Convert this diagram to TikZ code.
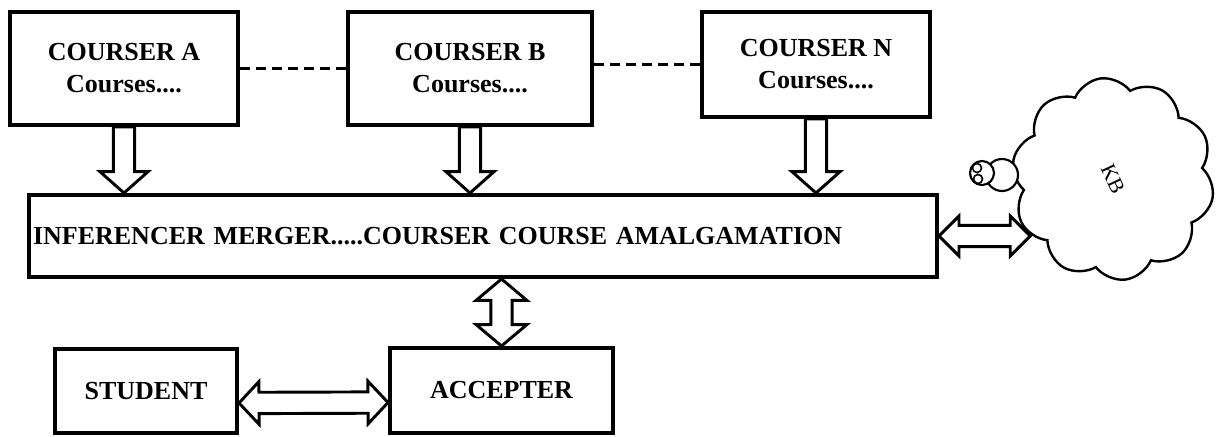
\documentclass[tikz,border=0pt]{standalone}
\usepackage{fontspec}
\setmainfont{Liberation Serif}
\usetikzlibrary{calc,shapes.symbols}

\tikzset{
  arrw/.store in=\arrw, arrh/.store in=\arrh, arrl/.store in=\arrl,
  arrw=8pt, arrh=18pt, arrl=16pt,
  box/.style={draw,line width=3pt,fill=white,align=center,inner sep=3pt,
    font=\fontsize{19.5}{24}\selectfont\bfseries},
  dashline/.style={line width=2pt,dash pattern=on 7.5pt off 4.5pt},
  fat/.style={draw,fill=white,line width=2.2pt,line join=miter,
    to path={-- ($(\tikztostart)!\arrw!90:(\tikztotarget)$)
      -- ($(\tikztotarget)!\arrl!(\tikztostart)!\arrw!90:(\tikztotarget)$)
      -- ($(\tikztotarget)!\arrl!(\tikztostart)!\arrh!90:(\tikztotarget)$)
      -- (\tikztotarget)
      -- ($(\tikztotarget)!\arrl!(\tikztostart)!\arrh!-90:(\tikztotarget)$)
      -- ($(\tikztotarget)!\arrl!(\tikztostart)!\arrw!-90:(\tikztotarget)$)
      -- ($(\tikztostart)!\arrw!-90:(\tikztotarget)$) -- cycle}},
  fatboth/.style={draw,fill=white,line width=2.2pt,line join=miter,
    to path={-- ($(\tikztostart)!\arrl!(\tikztotarget)!\arrh!90:(\tikztotarget)$)
      -- ($(\tikztostart)!\arrl!(\tikztotarget)!\arrw!90:(\tikztotarget)$)
      -- ($(\tikztotarget)!\arrl!(\tikztostart)!\arrw!90:(\tikztotarget)$)
      -- ($(\tikztotarget)!\arrl!(\tikztostart)!\arrh!90:(\tikztotarget)$)
      -- (\tikztotarget)
      -- ($(\tikztotarget)!\arrl!(\tikztostart)!\arrh!-90:(\tikztotarget)$)
      -- ($(\tikztotarget)!\arrl!(\tikztostart)!\arrw!-90:(\tikztotarget)$)
      -- ($(\tikztostart)!\arrl!(\tikztotarget)!\arrw!-90:(\tikztotarget)$)
      -- ($(\tikztostart)!\arrl!(\tikztotarget)!\arrh!-90:(\tikztotarget)$) -- cycle}}
}

\begin{document}
\begin{tikzpicture}[x=0.75pt,y=-0.75pt]
  \useasboundingbox (0,0) rectangle (1216,436);
  \node[box,minimum width=171pt,minimum height=84.75pt] (ca) at (124,68.5) {COURSER A\\Courses....};
  \node[box,minimum width=183pt,minimum height=84.75pt] (cb) at (470,68.5) {COURSER B\\Courses....};
  \node[box,minimum width=171pt,minimum height=78.75pt] (cn) at (816,64.5) {COURSER N\\Courses....};
  \node[box,minimum width=681pt,minimum height=61.5pt,text width=675pt,align=left] (mrg) at (483,236)
    {INFERENCER MERGER.....COURSER COURSE AMALGAMATION};
  \node[box,minimum width=136.5pt,minimum height=63pt] (stu) at (146,391) {STUDENT};
  \node[box,minimum width=167.25pt,minimum height=63.75pt] (acc) at (501.5,390.5) {ACCEPTER};
  \node[cloud,draw,rotate=-65,line width=1.8pt,cloud puffs=10,cloud puff arc=120,aspect=1,
    minimum width=152pt,minimum height=152pt,inner sep=0pt,
    font=\fontsize{16}{18}\selectfont] (kb) at (1113,179) {KB};
  \draw[line width=1.6pt,fill=white] (1002,175) circle[radius=16];
  \draw[line width=1.6pt,fill=white] (982,173) circle[radius=12];
  \draw[line width=1.2pt] (977,168) circle[radius=4.5] (978,179) circle[radius=4.5];
  \draw[dashline] (ca.east) -- (cb.west);
  \draw[dashline] (cb.east |- cn.west) -- (cn.west);
  \foreach \c in {ca,cb,cn}{
    \coordinate (\c m) at (\c.south |- mrg.north);
    \draw[fat] (\c.south) to (\c m);
  }
  \coordinate (accup) at (acc.north |- mrg.south);
  \draw[fatboth,arrh=19pt] (accup) to (acc.north);
  \draw[fatboth,arrh=16pt,arrl=15pt] ([yshift=-9pt]stu.east) to ([yshift=-9pt]acc.west);
  \coordinate (kbin) at (mrg.east -| kb.279);
  \draw[fatboth,arrh=15pt,arrl=15pt] (mrg.east) to (kbin);
\end{tikzpicture}
\end{document}
